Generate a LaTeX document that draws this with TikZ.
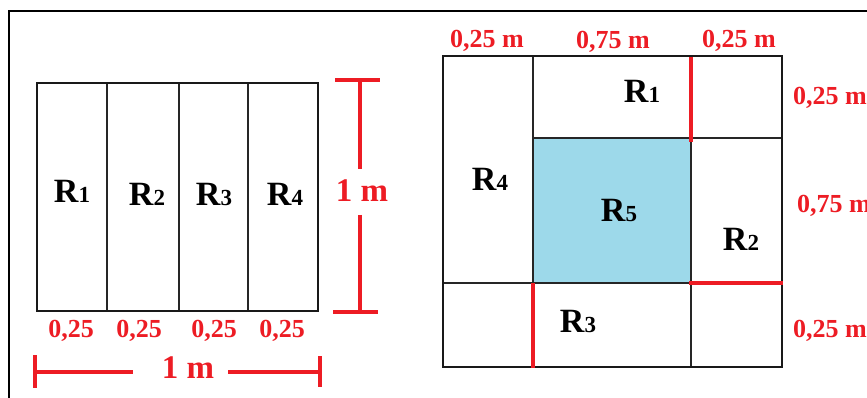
\documentclass[tikz,border=0pt]{standalone}
\usepackage{fontspec}
\setmainfont{Liberation Serif}
\definecolor{dimred}{HTML}{ED1C24}
\definecolor{cellblue}{HTML}{9DD9EA}
\newcommand\rsub[1]{{\fontsize{23}{23}\selectfont #1}}
\begin{document}
\begin{tikzpicture}[x=1pt,y=-1pt,
  gridline/.style={draw=black!85, line width=1.5pt},
  outerline/.style={draw=black!90, line width=2.5pt},
  redline/.style={draw=dimred, line width=4pt},
  rlab/.style={font=\bfseries\fontsize{34}{34}\selectfont, text=black, inner sep=0pt, anchor=base},
  dlab/.style={font=\bfseries\fontsize{26}{26}\selectfont, text=dimred, inner sep=0pt, anchor=base},
  mlab/.style={font=\bfseries\fontsize{33}{33}\selectfont, text=dimred, inner sep=0pt, anchor=base}]
\useasboundingbox (0,0) rectangle (867,398);
\fill[white] (0,0) rectangle (867,398);
% frame
\draw[line width=1.8pt] (9,400) -- (9,11) -- (870,11);

% ---------- left figure ----------
\draw[gridline] (107,83) -- (107,311) (179,83) -- (179,311) (248,83) -- (248,311);
\draw[outerline, line width=2pt] (37,83) rectangle (318,311);
\node[rlab] (l1) at (72,203) {R\rsub{1}};
\node[rlab] (l2) at (147,205) {R\rsub{2}};
\node[rlab] (l3) at (214,205) {R\rsub{3}};
\node[rlab] (l4) at (285,206) {R\rsub{4}};
\node[dlab] (b1) at (71,337) {0,25};
\node[dlab] (b2) at (139,337) {0,25};
\node[dlab] (b3) at (214,337) {0,25};
\node[dlab] (b4) at (282,337) {0,25};
% vertical dimension
\coordinate (vt) at (360,80);
\coordinate (vb) at (360,312);
\node[mlab] (vm) at (362,202) {1 m};
\draw[redline] (335,80) -- (380,80);
\draw[redline] (333,312) -- (378,312);
\draw[redline] (vt) -- (360,169);
\draw[redline] (360,215) -- (vb);
% horizontal dimension
\coordinate (hl) at (35,372);
\coordinate (hr) at (320,372);
\node[mlab] (hm) at (188,378) {1 m};
\draw[redline] (35,355) -- (35,388);
\draw[redline] (320,356) -- (320,387);
\draw[redline] (hl) -- (133,372);
\draw[redline] (228,372) -- (hr);

% ---------- right figure ----------
\fill[cellblue] (533,138) rectangle (691,283);
\draw[gridline] (533,56) -- (533,367);
\draw[gridline] (691,56) -- (691,367);
\draw[gridline] (533,138) -- (782,138);
\draw[gridline] (443,283) -- (782,283);
\draw[outerline] (443,56) rectangle (782,367);
\draw[redline] (691,57) -- (691,142);
\draw[redline] (533,283) -- (533,368);
\draw[redline] (689,283) -- (783,283);
\node[rlab] (r1) at (642,103) {R\rsub{1}};
\node[rlab] (r4) at (490,190) {R\rsub{4}};
\node[rlab] (r5) at (619,222) {R\rsub{5}};
\node[rlab] (r2) at (741,250) {R\rsub{2}};
\node[rlab] (r3) at (578,332) {R\rsub{3}};
\node[dlab] (t1) at (487,48) {0,25 m};
\node[dlab] (t2) at (613,49) {0,75 m};
\node[dlab] (t3) at (739,48) {0,25 m};
\node[dlab, anchor=base west] (s1) at (793,105) {0,25 m};
\node[dlab, anchor=base west] (s2) at (797,213) {0,75 m};
\node[dlab, anchor=base west] (s3) at (793,337) {0,25 m};
\end{tikzpicture}
\end{document}
